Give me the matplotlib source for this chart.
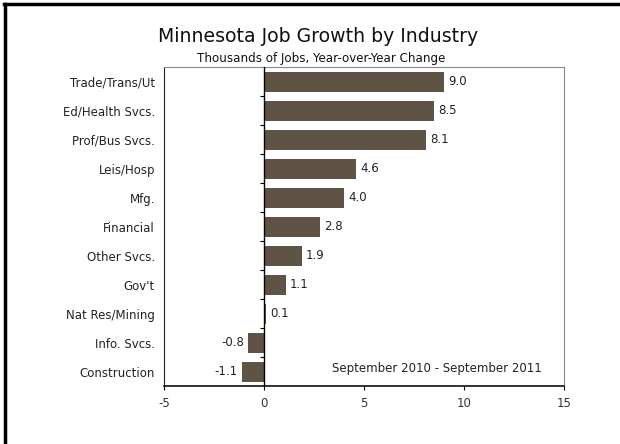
import matplotlib.pyplot as plt
import numpy as np
from matplotlib.lines import Line2D

plt.rcParams['axes.unicode_minus'] = False

industries = ['Trade/Trans/Ut', 'Ed/Health Svcs.', 'Prof/Bus Svcs.', 'Leis/Hosp', 'Mfg.',
              'Financial', 'Other Svcs.', "Gov't", 'Nat Res/Mining', 'Info. Svcs.', 'Construction']
change = [9.0, 8.5, 8.1, 4.6, 4.0, 2.8, 1.9, 1.1, 0.1, -0.8, -1.1]
x_ticks = [-5, 0, 5, 10, 15]

fig = plt.figure(figsize=(6.2, 4.44), dpi=100)
ax = fig.add_axes([0.2645, 0.1306, 0.6452, 0.7184])

y = np.arange(len(industries))
ax.barh(y, change, height=0.69, color='#5f5346', zorder=2)
ax.set_ylim(len(industries) - 0.5, -0.5)
ax.set_xlim(-5, 15)
ax.set_xticks(x_ticks)
ax.set_yticks(y)
ax.set_yticklabels(industries, fontsize=8.5, color='#222222')
ax.tick_params(axis='y', length=0, pad=6.5)
ax.tick_params(axis='x', length=3, direction='out', labelsize=8.5, labelcolor='#333333', pad=5)

for v, yi in zip(change, y):
    if v >= 0:
        ax.annotate(f'{v:.1f}', (v, yi), xytext=(3, 0), textcoords='offset points',
                    ha='left', va='center', fontsize=8.5, color='#222222')
    else:
        ax.annotate(f'{v:.1f}', (v, yi), xytext=(-3, 0), textcoords='offset points',
                    ha='right', va='center', fontsize=8.5, color='#222222')

ax.axvline(0, color='black', linewidth=1, zorder=3)

# small ticks between categories on the zero line
ax2 = ax.twinx()
ax2.set_ylim(ax.get_ylim())
ax2.spines['right'].set_position(('data', 0))
ax2.set_yticks(np.arange(len(industries) - 1) + 0.5)
ax2.set_yticklabels([])
ax2.tick_params(axis='y', direction='in', length=3, color='black')
for s in ['top', 'left', 'bottom', 'right']:
    ax2.spines[s].set_visible(False)

ax.spines['left'].set_color('#222222')
ax.spines['bottom'].set_color('#111111')
ax.spines['bottom'].set_linewidth(1.2)
ax.spines['top'].set_color('#888888')
ax.spines['right'].set_color('#888888')

ax.text(0.683, 0.055, 'September 2010 - September 2011', transform=ax.transAxes,
        ha='center', va='center', fontsize=8.5, color='#222222')

fig.text(0.513, 0.917, 'Minnesota Job Growth by Industry', ha='center', va='center',
         fontsize=13.6, color='#111111')
fig.text(0.518, 0.868, 'Thousands of Jobs, Year-over-Year Change', ha='center', va='center',
         fontsize=8.6, color='#111111')

# outer border (top and left edges only)
fig.add_artist(Line2D([0.007, 1.0], [0.99, 0.99], transform=fig.transFigure, color='black', linewidth=2.5))
fig.add_artist(Line2D([0.008, 0.008], [0.0, 0.99], transform=fig.transFigure, color='black', linewidth=2.5))

fig.savefig('out.png', dpi=100)
